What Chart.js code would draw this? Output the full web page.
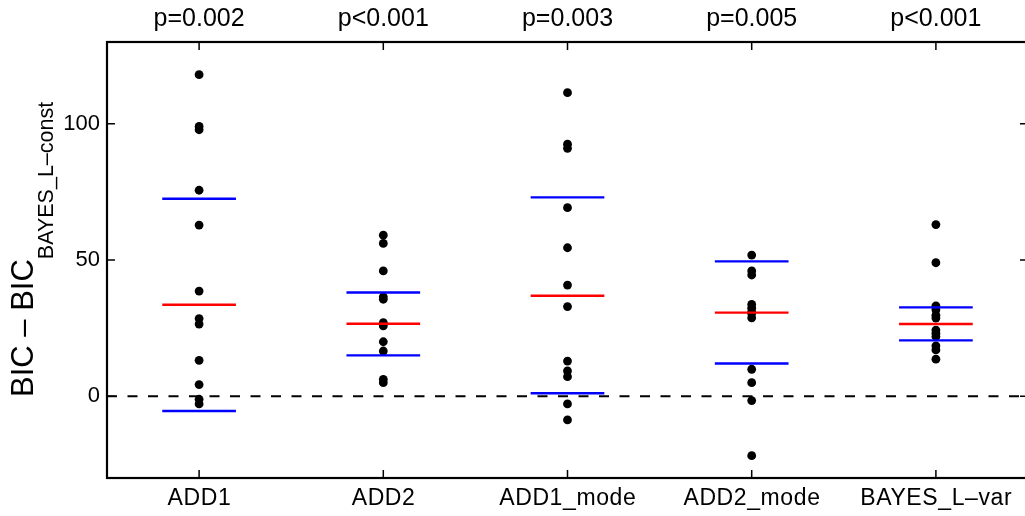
<!DOCTYPE html>
<html>
<head>
<meta charset="utf-8">
<script src="https://cdn.jsdelivr.net/npm/chart.js@4"></script>
<style>
html,body{margin:0;padding:0;background:#fff;overflow:hidden;}
#wrap{width:1040px;height:516px;}
</style>
</head>
<body>
<div id="wrap"><canvas id="c" width="1040" height="516"></canvas></div>
<script>
// ---- data ----
const categories = ["ADD1", "ADD2", "ADD1_mode", "ADD2_mode", "BAYES_L\u2013var"];
const pLabels = ["p=0.002", "p<0.001", "p=0.003", "p=0.005", "p<0.001"];
const valsADD1 = [118.0, 99.0, 97.8, 75.6, 62.8, 38.6, 28.5, 26.5, 13.2, 4.3, -1.1, -2.8];
const valsADD2 = [59.1, 56.1, 46.0, 36.5, 35.6, 27.0, 26.5, 25.8, 20.0, 16.6, 6.2, 5.0];
const valsADD1mode = [111.4, 92.5, 91.0, 69.2, 54.5, 40.8, 32.9, 12.9, 9.3, 7.2, -2.8, -8.7];
const valsADD2mode = [51.8, 46.0, 44.5, 33.7, 32.3, 30.9, 30.4, 28.8, 9.9, 5.0, -1.6, -21.8];
const valsBAYESvar = [63.0, 49.0, 33.2, 31.7, 29.7, 28.7, 24.3, 23.1, 21.9, 18.5, 17.0, 13.6];
const centreLine = [33.6, 26.6, 36.9, 30.7, 26.5];   // red
const lowerLine  = [-5.4, 15.0, 1.1, 12.0, 20.5];    // blue
const upperLine  = [72.5, 38.1, 73.0, 49.5, 32.6];   // blue
const yTicks = [0, 50, 100];
const yMin = -30, yMax = 130;
const xMin = 0.5, xMax = 5.5;
const halfWidth = 0.2;

const groups = [valsADD1, valsADD2, valsADD1mode, valsADD2mode, valsBAYESvar];

// ---- datasets ----
const datasets = [];
function segment(vals, color) {
  const d = [];
  vals.forEach((v, i) => {
    d.push({x: i + 1 - halfWidth, y: v});
    d.push({x: i + 1 + halfWidth, y: v});
    d.push({x: i + 1 + halfWidth, y: null});
  });
  return {type: 'line', data: d, borderColor: color, borderWidth: 2.4, pointRadius: 0,
          showLine: true, spanGaps: false, fill: false, borderCapStyle: 'butt'};
}
datasets.push(segment(centreLine, '#ff0000'));
datasets.push(segment(lowerLine, '#0000ff'));
datasets.push(segment(upperLine, '#0000ff'));
const pts = [];
groups.forEach((g, i) => g.forEach(v => pts.push({x: i + 1, y: v})));
datasets.push({type: 'scatter', data: pts, backgroundColor: '#000', borderWidth: 0,
               pointRadius: 4.4, pointHoverRadius: 4.4});
datasets.push({type: 'line', data: [{x: xMin, y: 0}, {x: xMax, y: 0}], borderColor: '#000',
               borderWidth: 2.2, borderDash: [10, 10.5], pointRadius: 0, showLine: true, fill: false});

const FONT = "'Liberation Sans', Arial, Helvetica, sans-serif";
Chart.defaults.font.family = FONT;
Chart.defaults.color = '#000';

const decor = {
  id: 'decor',
  afterDraw(chart) {
    const ctx = chart.ctx, a = chart.chartArea;
    const xs = chart.scales.x, ys = chart.scales.y;
    ctx.save();
    // box
    ctx.strokeStyle = '#000';
    ctx.lineWidth = 2.2;
    ctx.strokeRect(a.left, a.top, a.right - a.left, a.bottom - a.top);
    // ticks
    ctx.lineWidth = 1.5;
    const tl = 8;
    ctx.beginPath();
    yTicks.forEach(v => {
      const y = ys.getPixelForValue(v);
      ctx.moveTo(a.left, y); ctx.lineTo(a.left + tl, y);
      ctx.moveTo(a.right, y); ctx.lineTo(a.right - tl, y);
    });
    categories.forEach((c, i) => {
      const x = xs.getPixelForValue(i + 1);
      ctx.moveTo(x, a.bottom); ctx.lineTo(x, a.bottom - tl);
      ctx.moveTo(x, a.top); ctx.lineTo(x, a.top + tl);
    });
    ctx.stroke();
    ctx.fillStyle = '#000';
    ctx.textAlign = 'center';
    ctx.textBaseline = 'alphabetic';
    // p-values
    ctx.font = '25px ' + FONT;
    pLabels.forEach((p, i) => {
      ctx.fillText(p, xs.getPixelForValue(i + 1), 26);
    });
    // category labels
    ctx.font = '23px ' + FONT;
    ctx.letterSpacing = '0.6px';
    categories.forEach((c, i) => {
      ctx.fillText(c, xs.getPixelForValue(i + 1) + 0.3, 505);
    });
    ctx.letterSpacing = '0px';
    // y title with subscript
    ctx.translate(33, 397);
    ctx.rotate(-Math.PI / 2);
    ctx.textAlign = 'left';
    ctx.font = '31px ' + FONT;
    const main = 'BIC \u2013 BIC';
    ctx.fillText(main, 0, 0);
    const w = ctx.measureText(main).width;
    ctx.font = '21.5px ' + FONT;
    ctx.fillText('BAYES_L\u2013const', w, 20);
    ctx.restore();
  }
};

new Chart(document.getElementById('c'), {
  type: 'scatter',
  data: {datasets},
  options: {
    responsive: false,
    animation: false,
    events: [],
    layout: {padding: {top: 42, right: 12, left: 0, bottom: 0}},
    plugins: {legend: {display: false}, tooltip: {enabled: false}},
    scales: {
      x: {
        type: 'linear', min: xMin, max: xMax,
        grid: {display: false, drawTicks: false},
        border: {display: false},
        afterBuildTicks: s => { s.ticks = categories.map((c, i) => ({value: i + 1})); },
        afterFit: s => { s.height = 38; },
        ticks: {display: false}
      },
      y: {
        type: 'linear', min: yMin, max: yMax,
        grid: {display: false, drawTicks: false},
        border: {display: false},
        afterBuildTicks: s => { s.ticks = yTicks.map(v => ({value: v})); },
        afterFit: s => { s.width = 107; },
        ticks: {padding: 7, font: {size: 22}, color: '#000'}
      }
    }
  },
  plugins: [decor]
});
</script>
</body>
</html>
